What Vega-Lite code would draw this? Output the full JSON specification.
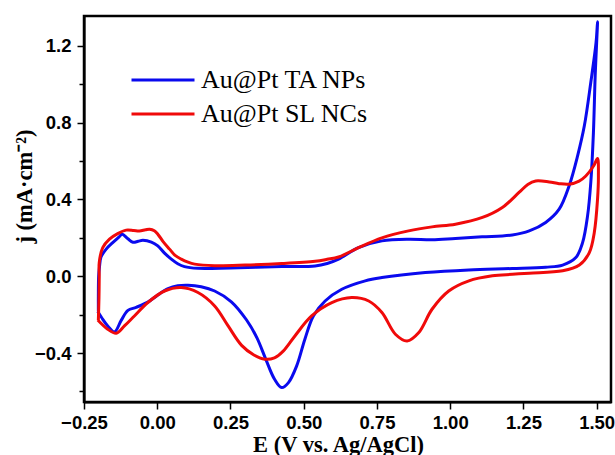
{
  "$schema": "https://vega.github.io/schema/vega-lite/v6.json",
  "width": 527,
  "height": 386,
  "autosize": {"type": "none"},
  "padding": {"left": 84, "top": 16, "right": 4, "bottom": 53},
  "background": "white",
  "config": {
    "view": {"stroke": "black", "strokeWidth": 2.5},
    "axis": {
      "domainColor": "black", "domainWidth": 2.2, "tickColor": "black", "tickWidth": 1.5,
      "labelFont": "Liberation Sans", "labelFontWeight": "bold", "labelFontSize": 18.5, "labelColor": "black",
      "labelFlush": false,
      "titleFont": "Liberation Serif", "titleFontWeight": "bold", "titleFontSize": 22.5, "titleColor": "black",
      "grid": false
    }
  },
  "data": {"values": [
    {"s": "Au@Pt TA NPs", "i": 1, "E": -0.201, "j": -0.184},
    {"s": "Au@Pt TA NPs", "i": 2, "E": -0.201, "j": -0.10},
    {"s": "Au@Pt TA NPs", "i": 3, "E": -0.200, "j": 0.0},
    {"s": "Au@Pt TA NPs", "i": 4, "E": -0.197, "j": 0.05},
    {"s": "Au@Pt TA NPs", "i": 5, "E": -0.192, "j": 0.10},
    {"s": "Au@Pt TA NPs", "i": 6, "E": -0.175, "j": 0.14},
    {"s": "Au@Pt TA NPs", "i": 7, "E": -0.152, "j": 0.175},
    {"s": "Au@Pt TA NPs", "i": 8, "E": -0.130, "j": 0.205},
    {"s": "Au@Pt TA NPs", "i": 9, "E": -0.120, "j": 0.219},
    {"s": "Au@Pt TA NPs", "i": 10, "E": -0.100, "j": 0.195},
    {"s": "Au@Pt TA NPs", "i": 11, "E": -0.083, "j": 0.177},
    {"s": "Au@Pt TA NPs", "i": 12, "E": -0.065, "j": 0.182},
    {"s": "Au@Pt TA NPs", "i": 13, "E": -0.049, "j": 0.187},
    {"s": "Au@Pt TA NPs", "i": 14, "E": -0.020, "j": 0.178},
    {"s": "Au@Pt TA NPs", "i": 15, "E": 0.002, "j": 0.158},
    {"s": "Au@Pt TA NPs", "i": 16, "E": 0.025, "j": 0.12},
    {"s": "Au@Pt TA NPs", "i": 17, "E": 0.048, "j": 0.089},
    {"s": "Au@Pt TA NPs", "i": 18, "E": 0.070, "j": 0.065},
    {"s": "Au@Pt TA NPs", "i": 19, "E": 0.093, "j": 0.05},
    {"s": "Au@Pt TA NPs", "i": 20, "E": 0.139, "j": 0.041},
    {"s": "Au@Pt TA NPs", "i": 21, "E": 0.25, "j": 0.043},
    {"s": "Au@Pt TA NPs", "i": 22, "E": 0.425, "j": 0.05},
    {"s": "Au@Pt TA NPs", "i": 23, "E": 0.539, "j": 0.053},
    {"s": "Au@Pt TA NPs", "i": 24, "E": 0.58, "j": 0.066},
    {"s": "Au@Pt TA NPs", "i": 25, "E": 0.619, "j": 0.089},
    {"s": "Au@Pt TA NPs", "i": 26, "E": 0.687, "j": 0.149},
    {"s": "Au@Pt TA NPs", "i": 27, "E": 0.767, "j": 0.184},
    {"s": "Au@Pt TA NPs", "i": 28, "E": 0.858, "j": 0.193},
    {"s": "Au@Pt TA NPs", "i": 29, "E": 0.938, "j": 0.190},
    {"s": "Au@Pt TA NPs", "i": 30, "E": 1.018, "j": 0.197},
    {"s": "Au@Pt TA NPs", "i": 31, "E": 1.109, "j": 0.205},
    {"s": "Au@Pt TA NPs", "i": 32, "E": 1.212, "j": 0.215},
    {"s": "Au@Pt TA NPs", "i": 33, "E": 1.27, "j": 0.236},
    {"s": "Au@Pt TA NPs", "i": 34, "E": 1.326, "j": 0.28},
    {"s": "Au@Pt TA NPs", "i": 35, "E": 1.372, "j": 0.349},
    {"s": "Au@Pt TA NPs", "i": 36, "E": 1.406, "j": 0.47},
    {"s": "Au@Pt TA NPs", "i": 37, "E": 1.435, "j": 0.627},
    {"s": "Au@Pt TA NPs", "i": 38, "E": 1.458, "j": 0.783},
    {"s": "Au@Pt TA NPs", "i": 39, "E": 1.48, "j": 1.009},
    {"s": "Au@Pt TA NPs", "i": 40, "E": 1.498, "j": 1.217},
    {"s": "Au@Pt TA NPs", "i": 41, "E": 1.503, "j": 1.325},
    {"s": "Au@Pt TA NPs", "i": 42, "E": 1.495, "j": 1.043},
    {"s": "Au@Pt TA NPs", "i": 43, "E": 1.489, "j": 0.748},
    {"s": "Au@Pt TA NPs", "i": 44, "E": 1.48, "j": 0.488},
    {"s": "Au@Pt TA NPs", "i": 45, "E": 1.469, "j": 0.314},
    {"s": "Au@Pt TA NPs", "i": 46, "E": 1.452, "j": 0.175},
    {"s": "Au@Pt TA NPs", "i": 47, "E": 1.429, "j": 0.097},
    {"s": "Au@Pt TA NPs", "i": 48, "E": 1.384, "j": 0.058},
    {"s": "Au@Pt TA NPs", "i": 49, "E": 1.326, "j": 0.047},
    {"s": "Au@Pt TA NPs", "i": 50, "E": 1.212, "j": 0.040},
    {"s": "Au@Pt TA NPs", "i": 51, "E": 1.064, "j": 0.033},
    {"s": "Au@Pt TA NPs", "i": 52, "E": 0.915, "j": 0.019},
    {"s": "Au@Pt TA NPs", "i": 53, "E": 0.767, "j": -0.007},
    {"s": "Au@Pt TA NPs", "i": 54, "E": 0.71, "j": -0.024},
    {"s": "Au@Pt TA NPs", "i": 55, "E": 0.63, "j": -0.068},
    {"s": "Au@Pt TA NPs", "i": 56, "E": 0.573, "j": -0.129},
    {"s": "Au@Pt TA NPs", "i": 57, "E": 0.533, "j": -0.207},
    {"s": "Au@Pt TA NPs", "i": 58, "E": 0.504, "j": -0.328},
    {"s": "Au@Pt TA NPs", "i": 59, "E": 0.476, "j": -0.467},
    {"s": "Au@Pt TA NPs", "i": 60, "E": 0.448, "j": -0.554},
    {"s": "Au@Pt TA NPs", "i": 61, "E": 0.425, "j": -0.58},
    {"s": "Au@Pt TA NPs", "i": 62, "E": 0.40, "j": -0.535},
    {"s": "Au@Pt TA NPs", "i": 63, "E": 0.37, "j": -0.43},
    {"s": "Au@Pt TA NPs", "i": 64, "E": 0.34, "j": -0.32},
    {"s": "Au@Pt TA NPs", "i": 65, "E": 0.305, "j": -0.228},
    {"s": "Au@Pt TA NPs", "i": 66, "E": 0.253, "j": -0.133},
    {"s": "Au@Pt TA NPs", "i": 67, "E": 0.196, "j": -0.077},
    {"s": "Au@Pt TA NPs", "i": 68, "E": 0.15, "j": -0.055},
    {"s": "Au@Pt TA NPs", "i": 69, "E": 0.105, "j": -0.047},
    {"s": "Au@Pt TA NPs", "i": 70, "E": 0.07, "j": -0.05},
    {"s": "Au@Pt TA NPs", "i": 71, "E": 0.037, "j": -0.065},
    {"s": "Au@Pt TA NPs", "i": 72, "E": 0.0, "j": -0.10},
    {"s": "Au@Pt TA NPs", "i": 73, "E": -0.032, "j": -0.135},
    {"s": "Au@Pt TA NPs", "i": 74, "E": -0.072, "j": -0.162},
    {"s": "Au@Pt TA NPs", "i": 75, "E": -0.1, "j": -0.178},
    {"s": "Au@Pt TA NPs", "i": 76, "E": -0.123, "j": -0.23},
    {"s": "Au@Pt TA NPs", "i": 77, "E": -0.146, "j": -0.29},
    {"s": "Au@Pt TA NPs", "i": 78, "E": -0.169, "j": -0.259},
    {"s": "Au@Pt TA NPs", "i": 79, "E": -0.190, "j": -0.215},
    {"s": "Au@Pt TA NPs", "i": 80, "E": -0.203, "j": -0.184},

    {"s": "Au@Pt SL NCs", "i": 1, "E": -0.201, "j": -0.228},
    {"s": "Au@Pt SL NCs", "i": 2, "E": -0.199, "j": -0.12},
    {"s": "Au@Pt SL NCs", "i": 3, "E": -0.198, "j": 0.0},
    {"s": "Au@Pt SL NCs", "i": 4, "E": -0.198, "j": 0.071},
    {"s": "Au@Pt SL NCs", "i": 5, "E": -0.186, "j": 0.149},
    {"s": "Au@Pt SL NCs", "i": 6, "E": -0.163, "j": 0.193},
    {"s": "Au@Pt SL NCs", "i": 7, "E": -0.135, "j": 0.222},
    {"s": "Au@Pt SL NCs", "i": 8, "E": -0.106, "j": 0.24},
    {"s": "Au@Pt SL NCs", "i": 9, "E": -0.08, "j": 0.238},
    {"s": "Au@Pt SL NCs", "i": 10, "E": -0.061, "j": 0.236},
    {"s": "Au@Pt SL NCs", "i": 11, "E": -0.040, "j": 0.242},
    {"s": "Au@Pt SL NCs", "i": 12, "E": -0.026, "j": 0.245},
    {"s": "Au@Pt SL NCs", "i": 13, "E": -0.010, "j": 0.237},
    {"s": "Au@Pt SL NCs", "i": 14, "E": 0.002, "j": 0.219},
    {"s": "Au@Pt SL NCs", "i": 15, "E": 0.020, "j": 0.18},
    {"s": "Au@Pt SL NCs", "i": 16, "E": 0.042, "j": 0.141},
    {"s": "Au@Pt SL NCs", "i": 17, "E": 0.060, "j": 0.110},
    {"s": "Au@Pt SL NCs", "i": 18, "E": 0.082, "j": 0.089},
    {"s": "Au@Pt SL NCs", "i": 19, "E": 0.105, "j": 0.073},
    {"s": "Au@Pt SL NCs", "i": 20, "E": 0.128, "j": 0.063},
    {"s": "Au@Pt SL NCs", "i": 21, "E": 0.196, "j": 0.055},
    {"s": "Au@Pt SL NCs", "i": 22, "E": 0.30, "j": 0.058},
    {"s": "Au@Pt SL NCs", "i": 23, "E": 0.425, "j": 0.066},
    {"s": "Au@Pt SL NCs", "i": 24, "E": 0.539, "j": 0.078},
    {"s": "Au@Pt SL NCs", "i": 25, "E": 0.58, "j": 0.088},
    {"s": "Au@Pt SL NCs", "i": 26, "E": 0.619, "j": 0.10},
    {"s": "Au@Pt SL NCs", "i": 27, "E": 0.687, "j": 0.149},
    {"s": "Au@Pt SL NCs", "i": 28, "E": 0.767, "j": 0.2},
    {"s": "Au@Pt SL NCs", "i": 29, "E": 0.858, "j": 0.236},
    {"s": "Au@Pt SL NCs", "i": 30, "E": 0.938, "j": 0.257},
    {"s": "Au@Pt SL NCs", "i": 31, "E": 1.018, "j": 0.271},
    {"s": "Au@Pt SL NCs", "i": 32, "E": 1.11, "j": 0.306},
    {"s": "Au@Pt SL NCs", "i": 33, "E": 1.178, "j": 0.358},
    {"s": "Au@Pt SL NCs", "i": 34, "E": 1.235, "j": 0.436},
    {"s": "Au@Pt SL NCs", "i": 35, "E": 1.265, "j": 0.478},
    {"s": "Au@Pt SL NCs", "i": 36, "E": 1.292, "j": 0.496},
    {"s": "Au@Pt SL NCs", "i": 37, "E": 1.338, "j": 0.491},
    {"s": "Au@Pt SL NCs", "i": 38, "E": 1.372, "j": 0.482},
    {"s": "Au@Pt SL NCs", "i": 39, "E": 1.406, "j": 0.479},
    {"s": "Au@Pt SL NCs", "i": 40, "E": 1.44, "j": 0.495},
    {"s": "Au@Pt SL NCs", "i": 41, "E": 1.463, "j": 0.522},
    {"s": "Au@Pt SL NCs", "i": 42, "E": 1.49, "j": 0.575},
    {"s": "Au@Pt SL NCs", "i": 43, "E": 1.503, "j": 0.613},
    {"s": "Au@Pt SL NCs", "i": 44, "E": 1.506, "j": 0.52},
    {"s": "Au@Pt SL NCs", "i": 45, "E": 1.503, "j": 0.4},
    {"s": "Au@Pt SL NCs", "i": 46, "E": 1.492, "j": 0.228},
    {"s": "Au@Pt SL NCs", "i": 47, "E": 1.475, "j": 0.123},
    {"s": "Au@Pt SL NCs", "i": 48, "E": 1.441, "j": 0.058},
    {"s": "Au@Pt SL NCs", "i": 49, "E": 1.384, "j": 0.028},
    {"s": "Au@Pt SL NCs", "i": 50, "E": 1.27, "j": 0.016},
    {"s": "Au@Pt SL NCs", "i": 51, "E": 1.212, "j": 0.010},
    {"s": "Au@Pt SL NCs", "i": 52, "E": 1.144, "j": 0.002},
    {"s": "Au@Pt SL NCs", "i": 53, "E": 1.064, "j": -0.024},
    {"s": "Au@Pt SL NCs", "i": 54, "E": 0.995, "j": -0.077},
    {"s": "Au@Pt SL NCs", "i": 55, "E": 0.938, "j": -0.172},
    {"s": "Au@Pt SL NCs", "i": 56, "E": 0.893, "j": -0.293},
    {"s": "Au@Pt SL NCs", "i": 57, "E": 0.853, "j": -0.337},
    {"s": "Au@Pt SL NCs", "i": 58, "E": 0.813, "j": -0.302},
    {"s": "Au@Pt SL NCs", "i": 59, "E": 0.767, "j": -0.189},
    {"s": "Au@Pt SL NCs", "i": 60, "E": 0.722, "j": -0.129},
    {"s": "Au@Pt SL NCs", "i": 61, "E": 0.664, "j": -0.111},
    {"s": "Au@Pt SL NCs", "i": 62, "E": 0.596, "j": -0.137},
    {"s": "Au@Pt SL NCs", "i": 63, "E": 0.527, "j": -0.207},
    {"s": "Au@Pt SL NCs", "i": 64, "E": 0.47, "j": -0.311},
    {"s": "Au@Pt SL NCs", "i": 65, "E": 0.43, "j": -0.39},
    {"s": "Au@Pt SL NCs", "i": 66, "E": 0.40, "j": -0.425},
    {"s": "Au@Pt SL NCs", "i": 67, "E": 0.367, "j": -0.432},
    {"s": "Au@Pt SL NCs", "i": 68, "E": 0.33, "j": -0.41},
    {"s": "Au@Pt SL NCs", "i": 69, "E": 0.288, "j": -0.36},
    {"s": "Au@Pt SL NCs", "i": 70, "E": 0.242, "j": -0.259},
    {"s": "Au@Pt SL NCs", "i": 71, "E": 0.196, "j": -0.155},
    {"s": "Au@Pt SL NCs", "i": 72, "E": 0.139, "j": -0.085},
    {"s": "Au@Pt SL NCs", "i": 73, "E": 0.082, "j": -0.059},
    {"s": "Au@Pt SL NCs", "i": 74, "E": 0.025, "j": -0.077},
    {"s": "Au@Pt SL NCs", "i": 75, "E": -0.032, "j": -0.137},
    {"s": "Au@Pt SL NCs", "i": 76, "E": -0.078, "j": -0.207},
    {"s": "Au@Pt SL NCs", "i": 77, "E": -0.112, "j": -0.259},
    {"s": "Au@Pt SL NCs", "i": 78, "E": -0.14, "j": -0.297},
    {"s": "Au@Pt SL NCs", "i": 79, "E": -0.169, "j": -0.276},
    {"s": "Au@Pt SL NCs", "i": 80, "E": -0.203, "j": -0.228}
  ]},
  "mark": {"type": "line", "interpolate": "catmull-rom", "strokeWidth": 3},
  "encoding": {
    "x": {
      "field": "E", "type": "quantitative",
      "scale": {"domain": [-0.25, 1.549], "nice": false, "zero": false},
      "axis": {
        "title": "E (V vs. Ag/AgCl)",
        "values": [-0.25, 0, 0.25, 0.5, 0.75, 1.0, 1.25, 1.5],
        "format": ".2f", "tickSize": 7, "labelPadding": 4,
        "titleX": 254, "titleY": 49, "titleBaseline": "alphabetic"
      }
    },
    "y": {
      "field": "j", "type": "quantitative",
      "scale": {"domain": [-0.655, 1.355], "nice": false, "zero": false},
      "axis": {
        "title": "j (mA·cm⁻²)",
        "values": [-0.6, -0.4, -0.2, 0, 0.2, 0.4, 0.6, 0.8, 1.0, 1.2],
        "labelExpr": "round(datum.value*10) % 4 == 0 ? format(datum.value, '.1f') : ''",
        "tickSize": {"condition": {"test": "round(datum.value*10) % 4 == 0", "value": 7}, "value": 5},
        "labelPadding": 6,
        "titleX": -48, "titleY": 170, "titleBaseline": "bottom"
      }
    },
    "color": {
      "field": "s", "type": "nominal",
      "scale": {"domain": ["Au@Pt TA NPs", "Au@Pt SL NCs"], "range": ["#0a0aee", "#f00a0a"]},
      "legend": {
        "title": null, "orient": "none", "legendX": 66, "legendY": 51,
        "symbolType": "M-3,0H3", "symbolSize": 441, "symbolStrokeWidth": 3,
        "labelFont": "Liberation Serif", "labelFontSize": 26, "labelColor": "black",
        "labelLimit": 0, "labelOffset": 25, "rowPadding": 8
      }
    },
    "order": {"field": "i", "type": "quantitative"}
  }
}
